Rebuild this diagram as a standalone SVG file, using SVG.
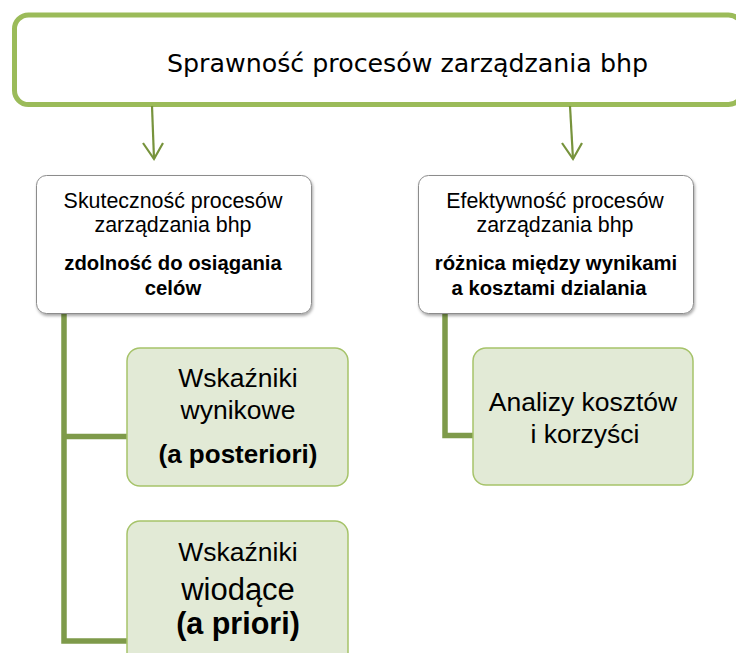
<svg xmlns="http://www.w3.org/2000/svg" width="736" height="653" viewBox="0 0 736 653">
<defs>
<style>
.title{font-family:"DejaVu Sans",Verdana,sans-serif;font-size:25.3px;fill:#000;text-anchor:middle}
.wt{font-family:"Liberation Sans",Arial,sans-serif;font-size:21.4px;fill:#000;text-anchor:middle}
.wb{font-family:"Liberation Sans",Arial,sans-serif;font-size:20.3px;font-weight:bold;fill:#000;text-anchor:middle}
.gt{font-family:"Liberation Sans",Arial,sans-serif;font-size:26.5px;fill:#000;text-anchor:middle}
.gb{font-family:"Liberation Sans",Arial,sans-serif;font-size:26px;font-weight:bold;fill:#000;text-anchor:middle}
.wbox{fill:#fff;stroke:#8c8c8c;stroke-width:1}
.gbox{fill:#e2ead6;stroke:#a6c36a;stroke-width:1.5}
.conn{stroke:#7e9a4a;stroke-width:5.5;fill:none}
.tail{stroke:#d6dfc8;stroke-width:5.5}
.arrow{stroke:#77933c;stroke-width:2.2;fill:none}
</style>
<filter id="sh" x="-10%" y="-10%" width="125%" height="130%">
<feDropShadow dx="1" dy="2" stdDeviation="1.6" flood-color="#000" flood-opacity="0.35"/>
</filter>
</defs>

<g id="top">
<rect x="14.5" y="15" width="728" height="89.5" rx="14" fill="#fff" stroke="#9bbb59" stroke-width="5"/>
<text class="title" x="407.5" y="72">Sprawność procesów zarządzania bhp</text>
</g>

<g id="connectors">
<path class="arrow" d="M152 106 L154 159"/>
<path class="arrow" d="M143 143 L154 159 L163 143"/>
<path class="arrow" d="M570 106 L573 159"/>
<path class="arrow" d="M562 143 L573 159 L582 143"/>
<path class="conn" d="M64 314 V641 H127 M64 436.5 H127"/>
<path class="tail" d="M127 436.5 H140 M127 641 H140"/>
<path class="conn" d="M445 314 V435.5 H473"/>
<path class="tail" d="M473 435.5 H478"/>
</g>

<g id="skutecznosc">
<rect class="wbox" x="36.5" y="175.5" width="275" height="138" rx="10" filter="url(#sh)"/>
<text class="wt" x="173" y="208">Skuteczność procesów</text>
<text class="wt" x="173" y="232">zarządzania bhp</text>
<text class="wb" x="173" y="270">zdolność do osiągania</text>
<text class="wb" x="173" y="295">celów</text>
</g>

<g id="efektywnosc">
<rect class="wbox" x="418.5" y="175.5" width="275" height="138" rx="10" filter="url(#sh)"/>
<text class="wt" x="555" y="208">Efektywność procesów</text>
<text class="wt" x="555" y="232">zarządzania bhp</text>
<text class="wb" x="556" y="270">różnica między wynikami</text>
<text class="wb" x="549" y="295">a kosztami dzialania</text>
</g>

<g id="wynikowe">
<rect class="gbox" x="127" y="348" width="221" height="138" rx="13"/>
<text class="gt" x="238" y="387">Wskaźniki</text>
<text class="gt" x="238" y="419">wynikowe</text>
<text class="gb" x="238" y="463">(a posteriori)</text>
</g>

<g id="wiodace">
<rect class="gbox" x="127" y="521" width="221" height="150" rx="13"/>
<text class="gt" x="238" y="561">Wskaźniki</text>
<text class="gt" x="238" y="599.5" style="font-size:31px">wiodące</text>
<text class="gb" x="238" y="634" style="font-size:30.5px">(a priori)</text>
</g>

<g id="analizy">
<rect class="gbox" x="473" y="348" width="220" height="137" rx="13"/>
<text class="gt" x="583" y="411">Analizy kosztów</text>
<text class="gt" x="585" y="443">i korzyści</text>
</g>
</svg>
